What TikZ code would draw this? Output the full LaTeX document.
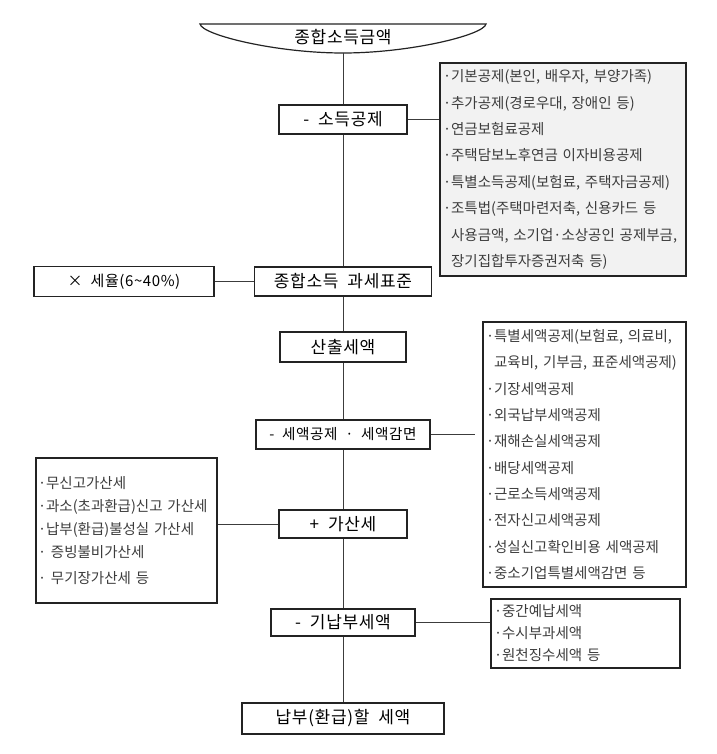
\documentclass[tikz,border=0pt]{standalone}
\usepackage{fontspec}
\setmainfont{Noto Sans CJK KR}
\newfontfamily\labelfont[LetterSpace=4, WordSpace=2]{Noto Sans CJK KR}
\usepackage{tikz}
\definecolor{frame}{RGB}{35, 35, 35}
\definecolor{wire}{RGB}{60, 60, 60}
\definecolor{shade}{RGB}{242, 242, 242}
\definecolor{itemtext}{RGB}{60, 60, 60}

\begin{document}
\begin{tikzpicture}[x=1pt, y=-1pt,
  flowbox/.style={draw=frame, line width=1.6pt, inner sep=0pt,
    font=\labelfont\fontsize{17}{20}\selectfont},
  listbox/.style={draw=frame, line width=1.6pt, align=left, inner xsep=3pt,
    inner ysep=0pt, text=itemtext, font=\fontsize{14.5}{26.4}\selectfont},
  link/.style={draw=wire, line width=1pt}]
  \useasboundingbox (0,0) rectangle (716,754);

  % Start: gross income
  \draw[frame, line width=1.2pt] (200,24) -- (486,24)
    .. controls (484,35) and (410,53) .. (343,53)
    .. controls (276,53) and (202,35) .. (200,24) -- cycle;
  \node[font=\labelfont\fontsize{17}{20}\selectfont] (gross) at (343,37) {종합소득금액};
  \coordinate (gross-bot) at (343,53);

  % Main chain
  \node[flowbox, minimum width=128, minimum height=29] (deduct) at (343,119.5) {- 소득공제};
  \node[flowbox, minimum width=177, minimum height=29] (base) at (343,281.5) {종합소득 과세표준};
  \node[flowbox, minimum width=126, minimum height=30] (computed) at (343,347) {산출세액};
  \node[flowbox, minimum width=174, minimum height=29, font=\labelfont\fontsize{14.6}{18}\selectfont] (credit) at (343,434.5) {- 세액공제 · 세액감면};
  \node[flowbox, minimum width=128, minimum height=28] (addtax) at (343,524) {+ 가산세};
  \node[flowbox, minimum width=144, minimum height=27] (prepaid) at (343,622.5) {- 기납부세액};
  \node[flowbox, minimum width=202, minimum height=31] (payable) at (343,718.5) {납부(환급)할 세액};
  \node[flowbox, minimum width=180, minimum height=30, font=\labelfont\fontsize{15}{18}\selectfont] (rate) at (124,281.5) {× 세율(6\textasciitilde 40\%)};

  % Side lists
  \node[listbox, fill=shade, text width=240, minimum height=213] (deductlist) at (563,169.5)
    {·기본공제(본인, 배우자, 부양가족)\\ ·추가공제(경로우대, 장애인 등)\\ ·연금보험료공제\\
     ·주택담보노후연금 이자비용공제\\ ·특별소득공제(보험료, 주택자금공제)\\
     ·조특법(주택마련저축, 신용카드 등\\ \hphantom{·}사용금액, 소기업·소상공인 공제부금,\\
     \hphantom{·}장기집합투자증권저축 등)};
  \node[listbox, text width=197, minimum height=265, font=\fontsize{14.5}{26.3}\selectfont] (creditlist) at (584.5,454.5)
    {·특별세액공제(보험료, 의료비,\\ \hphantom{·}교육비, 기부금, 표준세액공제)\\ ·기장세액공제\\
     ·외국납부세액공제\\ ·재해손실세액공제\\ ·배당세액공제\\ ·근로소득세액공제\\
     ·전자신고세액공제\\ ·성실신고확인비용 세액공제\\ ·중소기업특별세액감면 등};
  \node[listbox, inner xsep=2pt, text width=177, minimum height=145, font=\fontsize{14.5}{23}\selectfont] (penaltylist) at (126.5,530.5)
    {·무신고가산세\\ ·과소(초과환급)신고 가산세\\ ·납부(환급)불성실 가산세\\
     · 증빙불비가산세\\[3pt] · 무기장가산세 등};
  \node[listbox, text width=183, minimum height=69, font=\fontsize{14.5}{22}\selectfont] (prepaidlist) at (585.5,633.5)
    {·중간예납세액\\ ·수시부과세액\\ ·원천징수세액 등};

  % Connectors
  \draw[link] (gross-bot) -- (deduct);
  \draw[link] (deduct) -- (base);
  \draw[link] (base) -- (computed);
  \draw[link] (computed) -- (credit);
  \draw[link] (credit) -- (addtax);
  \draw[link] (addtax) -- (prepaid);
  \draw[link] (prepaid) -- (payable);
  \draw[link] (base) -- (rate);
  \draw[link] (deduct.east) -- (deduct.east -| deductlist.west);
  \draw[link, shorten >=7pt] (credit.east) -- (credit.east -| creditlist.west);
  \draw[link] (addtax.west) -- (addtax.west -| penaltylist.east);
  \draw[link] (prepaid.east) -- (prepaid.east -| prepaidlist.west);
\end{tikzpicture}
\end{document}
